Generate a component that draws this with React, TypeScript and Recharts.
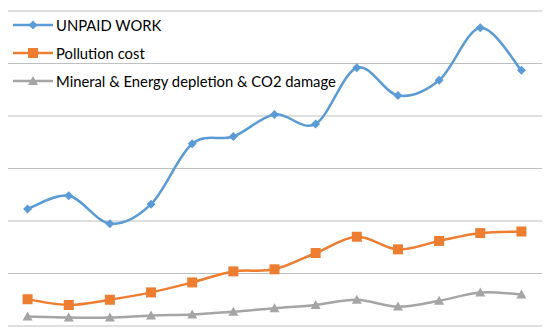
import React from "react";
import { LineChart, Line, XAxis, YAxis, CartesianGrid } from "recharts";

const categories = ["1", "2", "3", "4", "5", "6", "7", "8", "9", "10", "11", "12", "13"];
const unpaidWork = [22.3, 24.8, 19.5, 23.2, 34.7, 36.1, 40.3, 38.5, 49.2, 43.9, 46.8, 56.8, 48.7];
const pollutionCost = [5.1, 4.0, 5.0, 6.4, 8.3, 10.4, 10.8, 13.9, 17.0, 14.6, 16.2, 17.7, 18.0];
const mineralDepletion = [1.8, 1.6, 1.6, 2.0, 2.2, 2.7, 3.4, 4.0, 5.0, 3.7, 4.8, 6.4, 6.0];
const yTicks = [0, 10, 20, 30, 40, 50, 60];

const seriesNames = ["UNPAID WORK", "Pollution cost", "Mineral & Energy depletion & CO2 damage"];
const BLUE = "#5B9BD5";
const ORANGE = "#ED7D31";
const GRAY = "#A5A5A5";

const data = categories.map((c, i) => ({
  cat: c,
  unpaid: unpaidWork[i],
  pollution: pollutionCost[i],
  mineral: mineralDepletion[i],
}));

// Catmull-Rom style smoothing (Excel-like smoothed line)
const smoothCurve: any = (context: any) => {
  let pts: number[][] = [];
  return {
    areaStart() {},
    areaEnd() {},
    lineStart() {
      pts = [];
    },
    point(x: number, y: number) {
      pts.push([+x, +y]);
    },
    lineEnd() {
      if (!pts.length) return;
      context.moveTo(pts[0][0], pts[0][1]);
      for (let i = 0; i < pts.length - 1; i++) {
        const p0 = pts[i - 1] || pts[i];
        const p1 = pts[i];
        const p2 = pts[i + 1];
        const p3 = pts[i + 2] || p2;
        const c1x = p1[0] + (p2[0] - p0[0]) / 6;
        const c1y = p1[1] + (p2[1] - p0[1]) / 6;
        const c2x = p2[0] - (p3[0] - p1[0]) / 6;
        const c2y = p2[1] - (p3[1] - p1[1]) / 6;
        context.bezierCurveTo(c1x, c1y, c2x, c2y, p2[0], p2[1]);
      }
    },
  };
};

const Diamond = (props: any) => {
  const { cx, cy } = props;
  if (cx == null || cy == null) return null;
  const r = 4.5;
  return <path d={`M${cx},${cy - r}L${cx + r},${cy}L${cx},${cy + r}L${cx - r},${cy}Z`} fill={BLUE} />;
};
const Square = (props: any) => {
  const { cx, cy } = props;
  if (cx == null || cy == null) return null;
  const r = 5;
  return <rect x={cx - r} y={cy - r} width={2 * r} height={2 * r} fill={ORANGE} />;
};
const Triangle = (props: any) => {
  const { cx, cy } = props;
  if (cx == null || cy == null) return null;
  return <path d={`M${cx},${cy - 5}L${cx + 5},${cy + 4}L${cx - 5},${cy + 4}Z`} fill={GRAY} />;
};

const legendItems = [
  { name: seriesNames[0], color: BLUE, marker: "diamond" },
  { name: seriesNames[1], color: ORANGE, marker: "square" },
  { name: seriesNames[2], color: GRAY, marker: "triangle" },
];

const LegendOverlay = () => (
  <div
    style={{
      position: "absolute",
      top: 11,
      left: 13,
      fontFamily: "Lato, 'Open Sans', sans-serif",
      fontSize: 14.8,
      color: "#000",
      pointerEvents: "none",
    }}
  >
    {legendItems.map((it) => (
      <div key={it.name} style={{ display: "flex", alignItems: "center", height: 28, whiteSpace: "nowrap" }}>
        <svg width={42} height={12} style={{ marginRight: 1 }}>
          <line x1={0} y1={6} x2={40} y2={6} stroke={it.color} strokeWidth={2.5} />
          {it.marker === "diamond" && <path d="M20,1.5L24.5,6L20,10.5L15.5,6Z" fill={it.color} />}
          {it.marker === "square" && <rect x={15} y={1} width={10} height={10} fill={it.color} />}
          {it.marker === "triangle" && <path d="M20,1L25,10L15,10Z" fill={it.color} />}
        </svg>
        <span>{it.name}</span>
      </div>
    ))}
  </div>
);

export default function App() {
  return (
    <div style={{ margin: -8, width: 550, height: 335, background: "#fff", position: "relative" }}>
      <LineChart width={550} height={335} data={data} margin={{ top: 11, right: 8, bottom: 9, left: 7 }}>
        <CartesianGrid vertical={false} stroke="#bfbfbf" strokeWidth={1} />
        <XAxis dataKey="cat" hide scale="band" />
        <YAxis hide domain={[0, 60]} ticks={yTicks} />
        <Line
          dataKey="unpaid"
          name={seriesNames[0]}
          type={smoothCurve}
          stroke={BLUE}
          strokeWidth={2.5}
          dot={<Diamond />}
          activeDot={false}
          isAnimationActive={false}
        />
        <Line
          dataKey="pollution"
          name={seriesNames[1]}
          type={smoothCurve}
          stroke={ORANGE}
          strokeWidth={2.5}
          dot={<Square />}
          activeDot={false}
          isAnimationActive={false}
        />
        <Line
          dataKey="mineral"
          name={seriesNames[2]}
          type={smoothCurve}
          stroke={GRAY}
          strokeWidth={2.5}
          dot={<Triangle />}
          activeDot={false}
          isAnimationActive={false}
        />
      </LineChart>
      <LegendOverlay />
    </div>
  );
}
